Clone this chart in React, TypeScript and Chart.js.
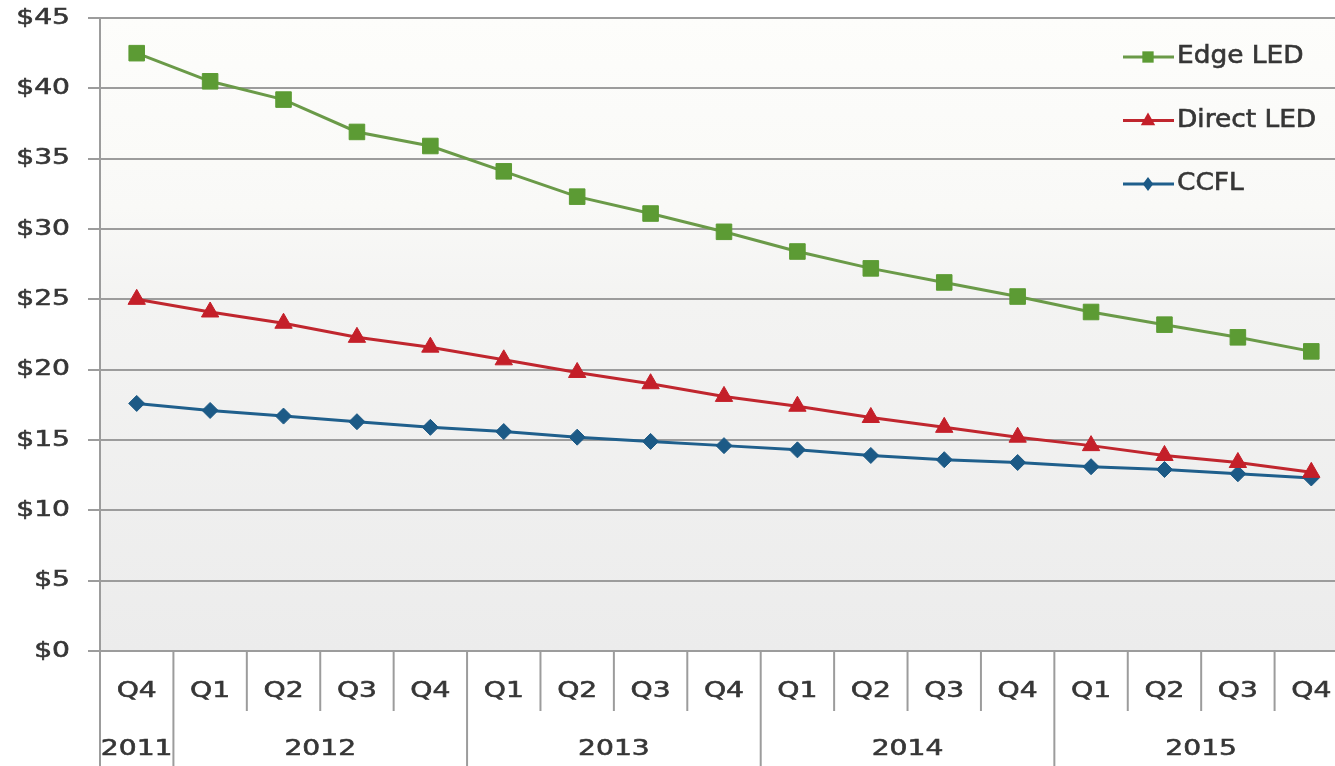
import React, { useEffect, useRef } from "react";
import { Chart, registerables } from "chart.js";

Chart.register(...registerables);

// Quarter labels and the year each quarter belongs to
const quarters = ["Q4", "Q1", "Q2", "Q3", "Q4", "Q1", "Q2", "Q3", "Q4", "Q1", "Q2", "Q3", "Q4", "Q1", "Q2", "Q3", "Q4"];
const quarterYears = ["2011", "2012", "2012", "2012", "2012", "2013", "2013", "2013", "2013", "2014", "2014", "2014", "2014", "2015", "2015", "2015", "2015"];

// Price per unit, US dollars
const edgeLed = [42.5, 40.5, 39.2, 36.9, 35.9, 34.1, 32.3, 31.1, 29.8, 28.4, 27.2, 26.2, 25.2, 24.1, 23.2, 22.3, 21.3];
const directLed = [25.0, 24.1, 23.3, 22.3, 21.6, 20.7, 19.8, 19.0, 18.1, 17.4, 16.6, 15.9, 15.2, 14.6, 13.9, 13.4, 12.7];
const ccfl = [17.6, 17.1, 16.7, 16.3, 15.9, 15.6, 15.2, 14.9, 14.6, 14.3, 13.9, 13.6, 13.4, 13.1, 12.9, 12.6, 12.3];

const yTicks = [0, 5, 10, 15, 20, 25, 30, 35, 40, 45];

const FONT = "'DejaVu Sans', Verdana, sans-serif";
const TEXT = "#363636";
const GRID = "#9c9c9c";

type Marker = "rect" | "triangle" | "rectRot";

// Text drawn with a slight horizontal stretch, as in wide Verdana-style labels
function wideText(
  ctx: CanvasRenderingContext2D,
  text: string,
  x: number,
  y: number,
  align: CanvasTextAlign,
  size: number,
  sx: number
) {
  ctx.save();
  ctx.translate(x, y);
  ctx.scale(sx, 1);
  ctx.font = `${size}px ${FONT}`;
  ctx.fillStyle = TEXT;
  ctx.strokeStyle = TEXT;
  ctx.lineWidth = 0.6;
  ctx.textAlign = align;
  ctx.textBaseline = "middle";
  ctx.fillText(text, 0, 0);
  ctx.strokeText(text, 0, 0);
  ctx.restore();
}

function drawMarker(ctx: CanvasRenderingContext2D, kind: Marker, x: number, y: number, r: number, color: string) {
  ctx.save();
  ctx.fillStyle = color;
  ctx.beginPath();
  if (kind === "rect") {
    const s = r * Math.SQRT1_2;
    ctx.rect(x - s, y - s, 2 * s, 2 * s);
  } else if (kind === "triangle") {
    ctx.moveTo(x, y - r);
    ctx.lineTo(x + r * 0.9, y + r * 0.6);
    ctx.lineTo(x - r * 0.9, y + r * 0.6);
    ctx.closePath();
  } else {
    ctx.moveTo(x, y - r);
    ctx.lineTo(x + r * 0.75, y);
    ctx.lineTo(x, y + r);
    ctx.lineTo(x - r * 0.75, y);
    ctx.closePath();
  }
  ctx.fill();
  ctx.restore();
}

const plotBackground = {
  id: "plotBackground",
  beforeDraw(chart: any) {
    const { ctx, chartArea } = chart;
    const g = ctx.createLinearGradient(0, chartArea.top, 0, chartArea.bottom);
    g.addColorStop(0, "#fdfdfb");
    g.addColorStop(0.3, "#f9f9f7");
    g.addColorStop(0.45, "#f3f3f2");
    g.addColorStop(1, "#ececec");
    ctx.save();
    ctx.fillStyle = g;
    ctx.fillRect(chartArea.left, chartArea.top, chartArea.right - chartArea.left, chartArea.bottom - chartArea.top);
    ctx.restore();
  },
};

const axisLabels = {
  id: "axisLabels",
  afterDraw(chart: any) {
    const { ctx, chartArea, scales } = chart;
    const x = scales.x;
    const y = scales.y;
    const h = chart.height;
    const n = quarters.length;
    const step = (chartArea.right - chartArea.left) / n;

    // value labels on the left
    yTicks.forEach((v) => {
      wideText(ctx, `$${v}`, 70, y.getPixelForValue(v), "right", 22, 1.28);
    });

    ctx.save();
    ctx.strokeStyle = GRID;
    ctx.lineWidth = 2;
    // left axis line continues through the label rows
    ctx.beginPath();
    ctx.moveTo(chartArea.left, chartArea.top);
    ctx.lineTo(chartArea.left, h);
    ctx.stroke();
    // separators between quarters; taller ones between years
    for (let i = 0; i < n - 1; i++) {
      const bx = x.getPixelForValue(i) + step / 2;
      const yearBreak = quarterYears[i] !== quarterYears[i + 1];
      ctx.beginPath();
      ctx.moveTo(bx, chartArea.bottom);
      ctx.lineTo(bx, yearBreak ? h : chartArea.bottom + 60);
      ctx.stroke();
    }
    ctx.restore();

    for (let i = 0; i < n; i++) {
      wideText(ctx, quarters[i], x.getPixelForValue(i), chartArea.bottom + 40, "center", 22, 1.28);
    }
    // year labels centred over their quarters
    let start = 0;
    for (let i = 1; i <= n; i++) {
      if (i === n || quarterYears[i] !== quarterYears[start]) {
        const cx = (x.getPixelForValue(start) + x.getPixelForValue(i - 1)) / 2;
        wideText(ctx, quarterYears[start], cx, chartArea.bottom + 98, "center", 22, 1.28);
        start = i;
      }
    }
  },
};

const insideLegend = {
  id: "insideLegend",
  afterDraw(chart: any) {
    const { ctx } = chart;
    const sizes = [8, 8, 7];
    chart.data.datasets.forEach((ds: any, i: number) => {
      const y = 57 + i * 63.5;
      ctx.save();
      ctx.strokeStyle = ds.borderColor;
      ctx.lineWidth = 3;
      ctx.beginPath();
      ctx.moveTo(1123, y);
      ctx.lineTo(1174, y);
      ctx.stroke();
      ctx.restore();
      drawMarker(ctx, ds.pointStyle, 1148, y, sizes[i], ds.pointBackgroundColor);
      wideText(ctx, ds.label, 1177, y, "left", 24, 1.1);
    });
  },
};

export default function App() {
  const canvasRef = useRef<HTMLCanvasElement | null>(null);

  useEffect(() => {
    if (!canvasRef.current) return;
    const chart = new Chart(canvasRef.current, {
      type: "line",
      data: {
        labels: quarters.map((q, i) => `${q} ${quarterYears[i]}`),
        datasets: [
          {
            label: "Edge LED",
            data: edgeLed,
            borderColor: "#6a9a48",
            borderWidth: 3,
            pointStyle: "rect",
            pointRadius: 11,
            pointBackgroundColor: "#5c9b34",
            pointBorderColor: "#5c9b34",
            pointBorderWidth: 1,
            tension: 0,
          },
          {
            label: "Direct LED",
            data: directLed,
            borderColor: "#c0262e",
            borderWidth: 3,
            pointStyle: "triangle",
            pointRadius: 10,
            pointBackgroundColor: "#c41f29",
            pointBorderColor: "#c41f29",
            pointBorderWidth: 1,
            tension: 0,
          },
          {
            label: "CCFL",
            data: ccfl,
            borderColor: "#1f5f8c",
            borderWidth: 3,
            pointStyle: "rectRot",
            pointRadius: 8,
            pointBackgroundColor: "#1c5a86",
            pointBorderColor: "#1c5a86",
            pointBorderWidth: 1,
            tension: 0,
          },
        ],
      },
      options: {
        responsive: false,
        animation: false,
        layout: { padding: { top: 18, bottom: 115, right: 3, left: 0 } },
        plugins: {
          legend: { display: false },
          tooltip: { enabled: false },
        },
        scales: {
          x: {
            type: "category",
            display: false,
            offset: true,
          },
          y: {
            min: 0,
            max: 45,
            afterFit: (s: any) => {
              s.width = 100;
            },
            afterBuildTicks: (s: any) => {
              s.ticks = yTicks.map((v) => ({ value: v }));
            },
            ticks: { display: false },
            grid: {
              color: GRID,
              lineWidth: 2,
              tickLength: 12,
              drawTicks: true,
            },
            border: { display: true, color: GRID, width: 2 },
          },
        },
      },
      plugins: [plotBackground, axisLabels, insideLegend],
    });
    return () => chart.destroy();
  }, []);

  return (
    <div style={{ position: "fixed", left: 0, top: 0, width: "100vw", height: "100vh", overflow: "hidden", background: "#ffffff" }}>
      <canvas ref={canvasRef} width={1360} height={766} style={{ display: "block" }} />
    </div>
  );
}
